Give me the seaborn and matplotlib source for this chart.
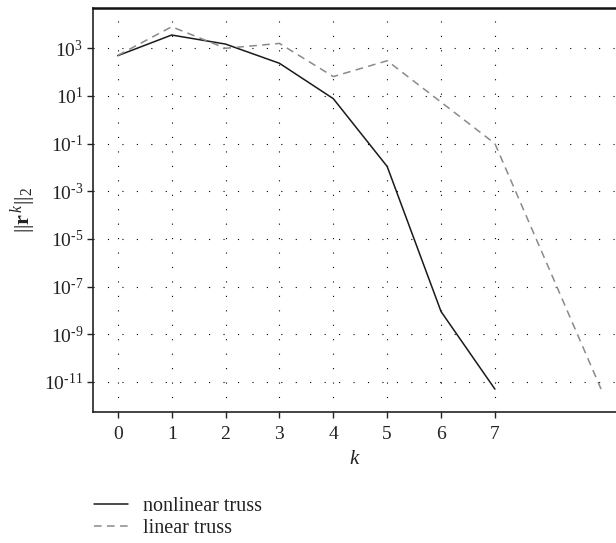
import numpy as np
import pandas as pd
import matplotlib
matplotlib.use("Agg")
import matplotlib.pyplot as plt
import seaborn as sns

# Data
k_nonlinear = [0, 1, 2, 3, 4, 5, 6, 7]
r_nonlinear = [4.9e2, 3.6e3, 1.5e3, 2.35e2, 7.7, 1.1e-2, 9e-9, 5e-12]
k_linear = [0, 1, 2, 3, 4, 5, 6, 7, 8, 9]
r_linear = [5.0e2, 8.0e3, 1.0e3, 1.6e3, 6.5e1, 3.0e2, 5.5, 1.0e-1, 6e-7, 3.5e-12]
x_ticks = [0, 1, 2, 3, 4, 5, 6, 7]
y_exponents = [3, 1, -1, -3, -5, -7, -9, -11]
series_names = ["nonlinear truss", "linear truss"]

sns.set_style("white")
plt.rcParams['font.family'] = ['Liberation Serif', 'DejaVu Serif']
plt.rcParams['mathtext.fontset'] = 'custom'
plt.rcParams['mathtext.rm'] = 'Liberation Serif'
plt.rcParams['mathtext.it'] = 'Liberation Serif:italic'
plt.rcParams['mathtext.bf'] = 'Liberation Serif:bold'

df_nl = pd.DataFrame({"k": k_nonlinear, "r": r_nonlinear})
df_l = pd.DataFrame({"k": k_linear, "r": r_linear})

fig = plt.figure(figsize=(6.16, 5.43), dpi=100)
ax = fig.add_axes([93/616, 1 - 412/543, 1 - 93/616 + 0.002, (412 - 8)/543])

sns.lineplot(data=df_nl, x="k", y="r", ax=ax, color="#1a1a1a", lw=1.1,
             label=series_names[0])
sns.lineplot(data=df_l, x="k", y="r", ax=ax, color="#8a8a8a", lw=1.1,
             label=series_names[1], linestyle=(0, (5, 3.5)))

ax.set_yscale("log")
ax.set_xlim(-0.46, 9.27)
ax.set_ylim(10**-12.26, 10**4.69)
ax.set_xticks(x_ticks)
ax.set_xticklabels([str(t) for t in x_ticks])
ax.set_yticks([10.0**e for e in y_exponents])
ax.set_yticklabels([r"$10^{\text{%d}}$" % e for e in y_exponents])
ax.yaxis.set_minor_locator(matplotlib.ticker.NullLocator())

ax.grid(True, which="major", linestyle=(0, (1, 12)), color="black", lw=0.8)
ax.tick_params(axis="both", which="major", direction="out", length=4, width=1.0,
               labelsize=14, colors="#222222", bottom=True, left=True, pad=6)
ax.tick_params(axis="y", pad=3)
for s in ["left", "bottom"]:
    ax.spines[s].set_linewidth(1.2)
    ax.spines[s].set_color("#222222")
ax.spines["top"].set_linewidth(1.8)
ax.spines["top"].set_color("#111111")
ax.spines["right"].set_visible(False)

ax.set_xlabel(r"$k$", fontsize=15, color="#222222", labelpad=5)
ax.set_ylabel(r"$||\mathbf{r}^{\,k}||_2$", fontsize=16, color="#222222", labelpad=4)

handles, labels = ax.get_legend_handles_labels()
ax.legend(handles, labels, loc="upper left", bbox_to_anchor=(76/616, 1 - 479/543),
          bbox_transform=fig.transFigure, frameon=False, fontsize=14.5,
          handlelength=1.7, handletextpad=0.75, labelspacing=0.15,
          labelcolor="#222222")

fig.savefig("out.png", dpi=100)
